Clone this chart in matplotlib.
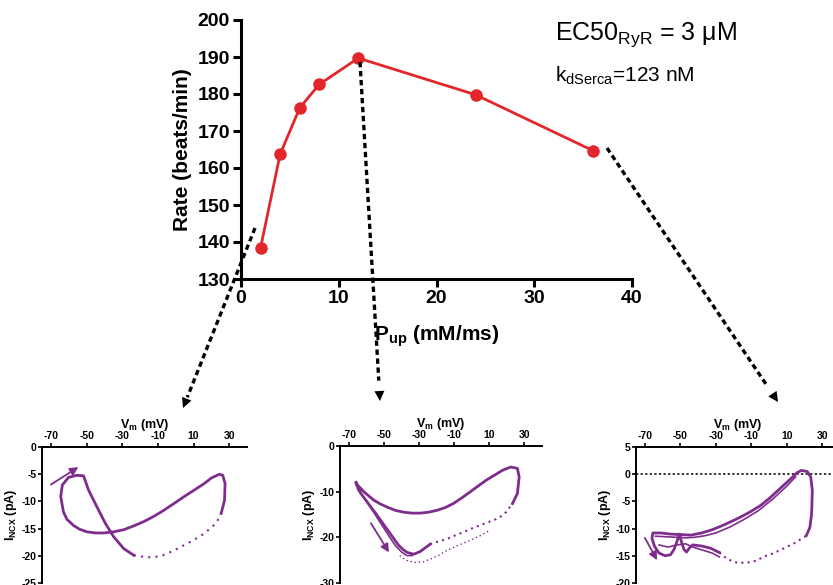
import matplotlib.pyplot as plt
from matplotlib.lines import Line2D
from matplotlib.patches import FancyArrowPatch

plt.rcParams['font.family'] = ['Liberation Sans', 'DejaVu Sans']
plt.rcParams['mathtext.fontset'] = 'custom'
plt.rcParams['mathtext.rm'] = 'Liberation Sans'
plt.rcParams['mathtext.bf'] = 'Liberation Sans:bold'
plt.rcParams['mathtext.it'] = 'Liberation Sans:italic'
plt.rcParams['axes.unicode_minus'] = False

RED = '#e3262b'
PURPLE = '#7f2d8d'

# Main chart: beating rate vs SERCA uptake
pup = [2, 4, 6, 8, 12, 24, 36]
rate = [138.4, 163.7, 176.2, 182.6, 189.7, 179.8, 164.7]

# Phase loops (Vm in mV, I_NCX in pA)
# inset 1 (Pup = 2)
loop1_v = [25.5, 27.4, 27.7, 26.4, 24.5, 20.0, 16.1, 10.5, 4.8, -1.0, -6.5, -12.0, -17.8,
           -23.5, -29.1, -35.0, -40.4, -45.0, -49.8, -54.0, -57.4, -61.0, -63.0, -64.5,
           -63.6, -60.2, -55.5, -51.7, -48.9, -44.2, -39.5, -34.8, -29.1, -23.5]
loop1_i = [-12.2, -9.8, -6.7, -5.2, -5.0, -5.7, -6.7, -7.9, -9.1, -10.4, -11.6, -12.7, -13.7,
           -14.5, -15.2, -15.6, -15.8, -15.8, -15.6, -15.1, -14.4, -13.3, -11.9, -9.1,
           -7.0, -5.6, -5.2, -5.3, -7.9, -11.0, -14.0, -16.5, -18.7, -19.9]
sparse1_v = [-23.5, -16.0, -8.4, -0.9, 8.5, 16.1, 22.7, 25.5]
sparse1_i = [-19.9, -20.3, -20.1, -19.0, -17.4, -15.9, -14.0, -12.2]

# inset 2 (Pup = 12)
loop2_v = [23.2, 26.0, 27.0, 26.0, 22.3, 17.6, 12.9, 8.2, 3.5, -1.1, -5.8, -10.5, -15.2,
           -19.9, -24.6, -29.3, -34.0, -38.7, -43.4, -48.0, -52.0, -55.6, -61.2, -64.9,
           -66.0, -65.5, -63.1, -60.2, -57.4, -54.6, -51.8, -49.0, -46.2, -43.8, -41.5,
           -39.0, -36.8, -33.0, -29.3, -26.5, -23.7]
loop2_i = [-12.6, -10.4, -6.8, -4.9, -4.6, -5.3, -6.4, -7.5, -8.8, -10.1, -11.4, -12.6, -13.5,
           -14.1, -14.5, -14.7, -14.7, -14.5, -14.1, -13.4, -12.7, -11.9, -10.1, -8.6,
           -7.9, -8.6, -10.4, -11.9, -13.4, -14.8, -16.3, -17.8, -19.3, -20.6, -21.8,
           -22.7, -23.3, -23.7, -23.1, -22.3, -21.5]
loop2b_v = [-65.0, -62.0, -58.5, -55.0, -51.0, -47.0, -43.5, -40.0, -37.0, -34.0]
loop2b_i = [-9.5, -11.0, -12.9, -15.0, -17.4, -19.8, -21.8, -23.2, -24.0, -24.0]
sparse2_v = [-23.7, -19.0, -14.3, -9.6, -4.9, -0.2, 4.5, 9.2, 13.9, 17.0, 19.5, 23.2]
sparse2_i = [-21.5, -20.9, -20.4, -19.6, -18.9, -18.1, -17.4, -16.7, -16.0, -15.3, -14.5, -12.6]
sparse2b_v = [-41.0, -37.5, -33.0, -28.0, -23.7, -19.0, -14.3, -8.0, -1.1, 5.0, 10.1]
sparse2b_i = [-24.0, -25.0, -25.5, -25.4, -24.8, -24.0, -22.9, -21.8, -20.7, -19.6, -18.5]

# inset 3 (Pup = 36)
loop3_v = [21.0, 23.0, 24.0, 24.4, 23.5, 21.5, 18.2, 15.5, 13.0, 9.0, 5.0, 0.0, -5.0, -10.0,
           -15.0, -20.0, -26.0, -32.0, -38.0, -44.0, -50.0, -56.0, -61.0, -65.5, -66.0,
           -64.5, -62.0, -58.5, -55.5, -53.5, -51.5, -50.5, -49.5, -48.0, -46.5, -45.0,
           -43.0, -38.0, -33.0, -28.0]
loop3_i = [-11.3, -9.8, -7.3, -3.0, -0.5, 0.5, 0.7, 0.2, -0.6, -1.8, -3.0, -4.5, -5.8, -6.8,
           -7.7, -8.5, -9.4, -10.2, -10.8, -11.2, -11.1, -11.0, -10.8, -10.8, -11.8,
           -13.3, -14.5, -15.0, -14.8, -13.8, -12.0, -11.0, -12.3, -13.8, -14.3, -13.6,
           -13.0, -13.2, -13.6, -14.4]
loop3b_v = [-64.0, -58.0, -52.0, -47.0, -42.0, -36.0, -30.0, -22.0, -14.0, -6.0, 2.0, 9.0, 15.0]
loop3b_i = [-11.4, -11.5, -11.6, -11.7, -11.6, -11.3, -10.8, -9.7, -8.3, -6.7, -4.6, -2.5, -0.5]
loop3c_v = [-62.0, -57.0, -52.0, -47.0, -42.0, -37.0, -32.0, -28.0]
loop3c_i = [-13.0, -13.4, -13.0, -12.8, -13.5, -14.0, -14.5, -15.2]
sparse3_v = [-28.0, -24.0, -19.3, -12.8, -7.0, -3.4, 2.0, 6.0, 11.0, 15.4, 18.0, 21.0]
sparse3_i = [-14.4, -15.5, -16.2, -16.3, -15.9, -15.2, -14.6, -14.0, -13.2, -12.5, -11.9, -11.3]

# small purple direction arrows (start, end) in data units
arrow1 = [(-70.0, -6.9), (-54.6, -3.7)]
arrow2 = [(-57.4, -16.9), (-47.1, -23.3)]
arrow3 = [(-70.0, -11.7), (-63.1, -15.8)]

# dashed connectors, figure pixels (x, y from top)
connectors = [[(255, 228), (183, 408)],
              [(360, 62), (380, 401)],
              [(607, 148), (778, 402)]]

W, H = 833, 585
fig = plt.figure(figsize=(W / 100, H / 100), dpi=100)


def frac(px, py):
    return px / W, 1 - py / H


# ---------- main chart ----------
ax = fig.add_axes([241 / W, 1 - 279 / H, 391 / W, 259 / H])
ax.plot(pup, rate, color=RED, lw=2, marker='o', ms=8, clip_on=False, zorder=3)
ax.set_xlim(0, 40)
ax.set_ylim(130, 200)
ax.set_xticks(range(0, 41, 10))
ax.set_yticks(range(130, 201, 10))
for s in ['top', 'right']:
    ax.spines[s].set_visible(False)
for s in ['left', 'bottom']:
    ax.spines[s].set_linewidth(2.2)
ax.tick_params(width=2.2, length=6, labelsize=14, pad=2)
for lab in ax.get_xticklabels() + ax.get_yticklabels():
    lab.set_fontweight('bold')
ax.set_ylabel('Rate (beats/min)', fontsize=15, fontweight='bold', labelpad=4)
ax.set_xlabel(r'$\mathbf{P_{up}}$ (mM/ms)', fontsize=15, fontweight='bold', labelpad=12)

fig.text(555 / W, 1 - 40 / H, r'EC50$_{\mathrm{RyR}}$ = 3 $\mathrm{\mu}$M', fontsize=18)
fig.text(555 / W, 1 - 82 / H, r'k$_{\mathrm{dSerca}}$=123 nM', fontsize=15)


# ---------- insets ----------
def inset(left, top, right, bottom, ylim, yticks, xmax=40):
    a = fig.add_axes([left / W, 1 - bottom / H, (right - left) / W, (bottom - top) / H])
    a.set_xlim(-75, xmax)
    a.set_ylim(*ylim)
    a.set_xticks(range(-70, 31, 20))
    a.set_yticks(yticks)
    a.xaxis.tick_top()
    a.xaxis.set_label_position('top')
    a.spines['bottom'].set_visible(False)
    a.spines['right'].set_visible(False)
    a.spines['top'].set_linewidth(1.4)
    a.spines['left'].set_linewidth(1.4)
    a.tick_params(width=1.2, length=3, labelsize=7.5, pad=1)
    for lab in a.get_xticklabels() + a.get_yticklabels():
        lab.set_fontweight('bold')
    a.set_xlabel(r'$\mathbf{V_m}$ (mV)', fontsize=9, fontweight='bold', labelpad=2.5)
    a.set_ylabel(r'$\mathbf{I_{NCX}}$ (pA)', fontsize=9, fontweight='bold', labelpad=2)
    return a


def direction(a, arr):
    a.annotate('', xy=arr[1], xytext=arr[0],
               arrowprops=dict(arrowstyle='-|>', color=PURPLE, lw=1.3, mutation_scale=12,
                               shrinkA=0, shrinkB=0))


a1 = inset(42, 447, 247, 583, (-25, 0), range(0, -26, -5))
a1.plot(loop1_v, loop1_i, color=PURPLE, lw=2.0)
a1.plot(sparse1_v, sparse1_i, color=PURPLE, lw=1.5, ls=(0, (1, 2.5)))
direction(a1, arrow1)

a2 = inset(340, 446, 542, 583, (-30, 0), range(0, -31, -10))
a2.plot(loop2_v, loop2_i, color=PURPLE, lw=2.0)
a2.plot(loop2b_v, loop2b_i, color=PURPLE, lw=1.2)
a2.plot(sparse2_v, sparse2_i, color=PURPLE, lw=1.5, ls=(0, (1, 2)))
a2.plot(sparse2b_v, sparse2b_i, color=PURPLE, lw=1.0, ls=(0, (1, 2)))
direction(a2, arrow2)

a3 = inset(636, 447, 840, 583, (-20, 5), range(5, -21, -5))
a3.axhline(0, color='black', lw=1.1, ls=(0, (1.5, 1.5)))
a3.plot(loop3_v, loop3_i, color=PURPLE, lw=2.0)
a3.plot(loop3b_v, loop3b_i, color=PURPLE, lw=1.2)
a3.plot(loop3c_v, loop3c_i, color=PURPLE, lw=1.2)
a3.plot(sparse3_v, sparse3_i, color=PURPLE, lw=1.5, ls=(0, (1, 2)))
direction(a3, arrow3)

# ---------- dashed connectors ----------
for (x0, y0), (x1, y1) in connectors:
    fx0, fy0 = frac(x0, y0)
    fx1, fy1 = frac(x1, y1)
    # stop dash line a bit before the head
    t = 0.94
    mx, my = fx0 + (fx1 - fx0) * t, fy0 + (fy1 - fy0) * t
    fig.add_artist(Line2D([fx0, mx], [fy0, my], transform=fig.transFigure,
                          color='black', lw=2.4, ls=(0, (1.6, 1.1))))
    hx, hy = fx0 + (fx1 - fx0) * 0.9, fy0 + (fy1 - fy0) * 0.9
    fig.add_artist(FancyArrowPatch((hx, hy), (fx1, fy1), transform=fig.transFigure,
                                   arrowstyle='-|>', mutation_scale=18, color='black',
                                   lw=0, shrinkA=0, shrinkB=0))

fig.savefig('out.png', dpi=100)
